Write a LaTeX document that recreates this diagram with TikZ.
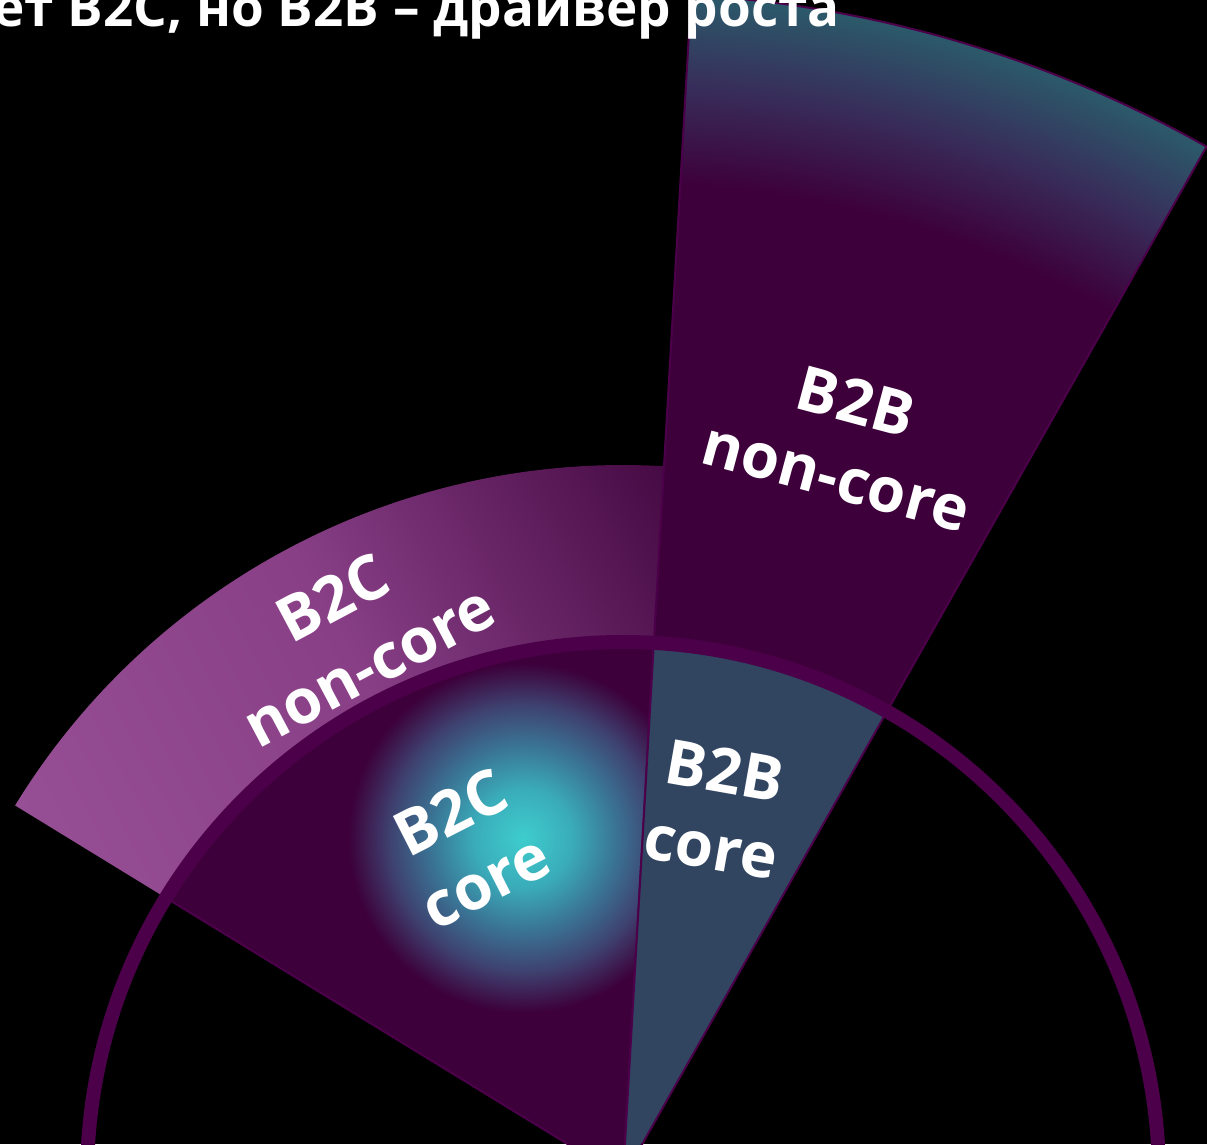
\documentclass[tikz,border=0pt]{standalone}
\usepackage{fontspec}
\setmainfont{Open Sans}
\definecolor{ringc}{RGB}{76,0,74}
\definecolor{darkp}{RGB}{61,0,58}
\definecolor{slateb}{RGB}{49,69,97}
\definecolor{tealc}{RGB}{62,205,205}
\definecolor{tealh}{RGB}{58,172,186}
\definecolor{tealm}{RGB}{58,118,150}
\definecolor{bluep}{RGB}{62,66,112}
\definecolor{pinkl}{RGB}{150,78,148}
\definecolor{pinkm}{RGB}{136,63,134}
\definecolor{pinkd}{RGB}{70,10,68}
\definecolor{outerb}{RGB}{43,90,106}
\definecolor{outerm}{RGB}{56,44,90}
\pgfdeclareradialshading{b2bncshade}{\pgfpointorigin}{color(0bp)=(darkp); color(21.0bp)=(darkp); color(23.0bp)=(outerm); color(25bp)=(outerb); color(50bp)=(outerb)}
\pgfdeclareradialshading{b2ccoreshade}{\pgfpointorigin}{color(0bp)=(tealc); color(7bp)=(tealh); color(13bp)=(tealm); color(19bp)=(bluep); color(25bp)=(darkp); color(50bp)=(darkp)}
\tikzset{
  lbl/.style={text=white, font=\bfseries\fontsize{62}{77}\selectfont, align=center, inner sep=0pt},
  wedgeedge/.style={draw=ringc, line width=2pt},
  ringline/.style={draw=ringc, line width=14pt}
}
\def\pathBCnc{(148.5:536) -- (148.5:713) arc[start angle=148.5, end angle=86.7, radius=713] -- (86.7:536) arc[start angle=86.7, end angle=148.5, radius=536] -- cycle}
\def\pathBBnc{(60.5:536) -- (60.5:1185) arc[start angle=60.5, end angle=86.7, radius=1185] -- (86.7:536) arc[start angle=86.7, end angle=60.5, radius=536] -- cycle}
\def\pathBCc{(0,0) -- (86.7:536) arc[start angle=86.7, end angle=148.5, radius=536] -- cycle}
\def\pathBBc{(0,0) -- (60.5:536) arc[start angle=60.5, end angle=86.7, radius=536] -- cycle}
\begin{document}
\begin{tikzpicture}[x=1pt,y=1pt]
\useasboundingbox (0,0) rectangle (1207,1144);
\clip (0,0) rectangle (1207,1144);
\fill[black] (0,0) rectangle (1207,1144);
\begin{scope}[shift={(623,-34)}]
  % B2C non-core
  \begin{scope}
    \clip \pathBCnc;
    \shade[top color=pinkl, bottom color=pinkd, middle color=pinkm, shading angle=117.9] (-650.5,175.5) rectangle (82.5,908.5);
  \end{scope}
  % B2B non-core
  \begin{scope}
    \clip \pathBBnc;
    \shade[shading=b2bncshade] (0,0) circle[radius=1185pt];
  \end{scope}
  \draw[wedgeedge] \pathBBnc;
  % B2C core
  \fill[darkp] \pathBCc;
  \begin{scope}
    \clip \pathBCc;
    \shade[shading=b2ccoreshade] (-100,340) circle[radius=175pt];
  \end{scope}
  \draw[wedgeedge] \pathBCc;
  % B2B core
  \fill[slateb] \pathBBc;
  \draw[wedgeedge] \pathBBc;
  % ring
  \draw[ringline] (0,0) circle[radius=536pt];
\end{scope}
\node[lbl, rotate=-15] (b2bnc) at (846,705) {B2B\\non-core};
\node[lbl, rotate=28] (b2cnc) at (351,512) {B2C\\non-core};
\node[lbl, rotate=27] (b2cc) at (468,297) {B2C\\core};
\node[lbl, rotate=-10] (b2bc) at (718,335) {B2B\\core};
\node[anchor=base east, text=white, font=\bfseries\fontsize{53}{58}\selectfont, inner sep=0pt] (title) at (840,1117) {ет B2C, но B2B – драйвер роста};
\end{tikzpicture}
\end{document}
